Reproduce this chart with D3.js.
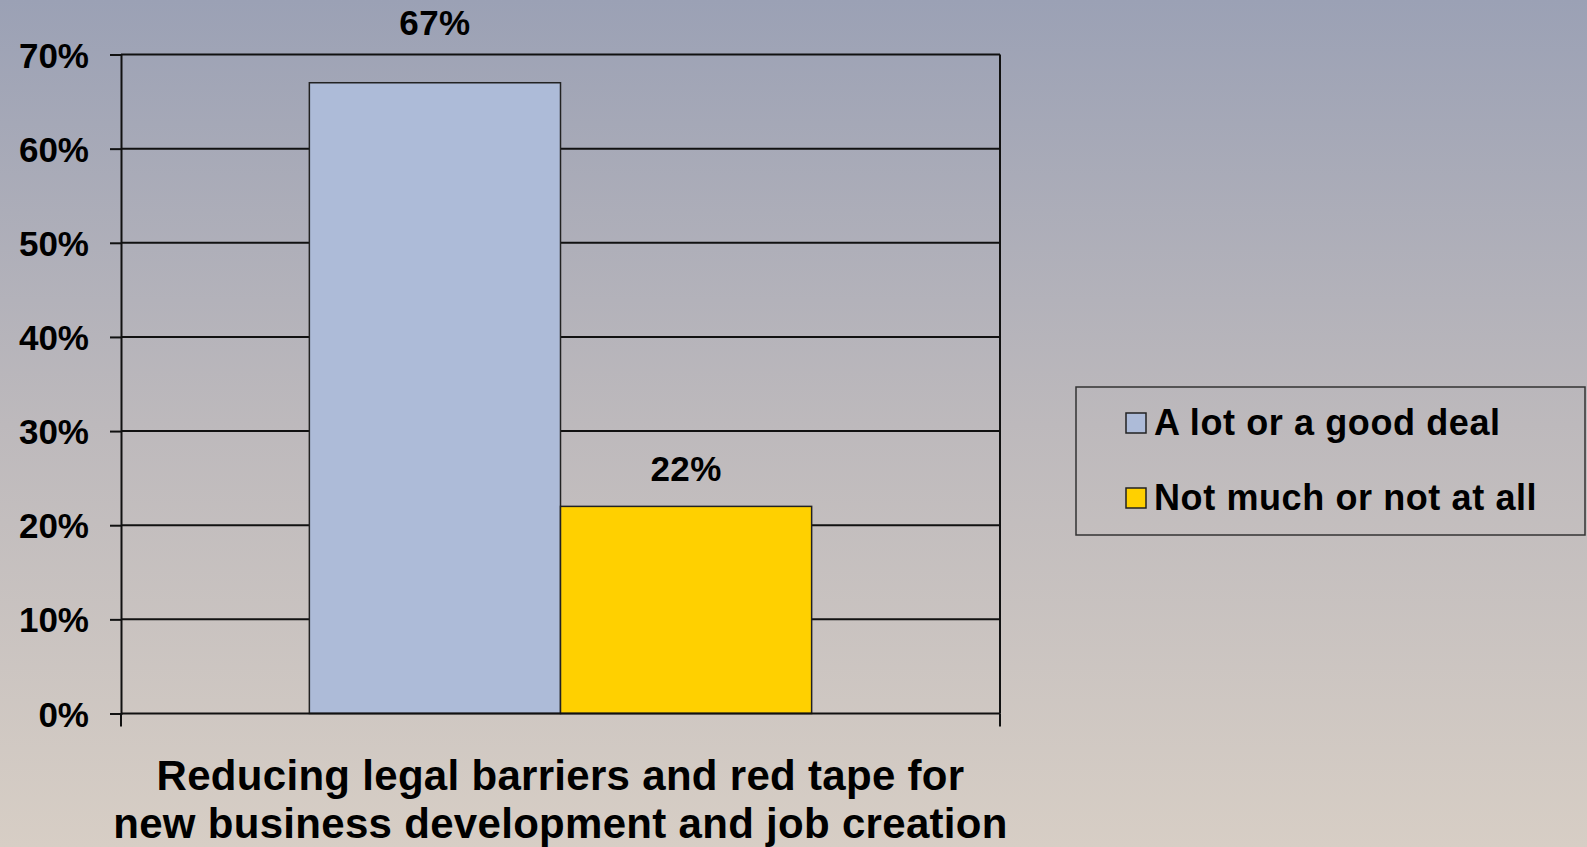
<!DOCTYPE html>
<html>
<head>
<meta charset="utf-8">
<script src="https://cdn.jsdelivr.net/npm/d3@7"></script>
<style>
  html, body { margin: 0; padding: 0; overflow: hidden; }
  svg { display: block; }
  text { font-family: "Liberation Sans", Arial, sans-serif; font-weight: bold; fill: #000; }
</style>
</head>
<body>
<script>
// Survey result: how much each option would help
const categories = ["Reducing legal barriers and red tape for new business development and job creation"];
const categoryLines = ["Reducing legal barriers and red tape for", "new business development and job creation"];
const seriesNames = ["A lot or a good deal", "Not much or not at all"];
const seriesValues = [0.67, 0.22];
const seriesColors = ["#adbbd8", "#ffd000"];
const yTicks = [0, 0.1, 0.2, 0.3, 0.4, 0.5, 0.6, 0.7];

const W = 1587, H = 847;
const plot = { left: 121, right: 1000, top: 54.5, bottom: 713.5 };
const gapWidth = 1.5; // gap between bar groups, as a share of one bar width

const svg = d3.select("body").append("svg").attr("width", W).attr("height", H);

// Background wash: cool grey-blue at the top fading to warm beige
const defs = svg.append("defs");
const grad = defs.append("linearGradient").attr("id", "bg").attr("x1", 0).attr("y1", 0).attr("x2", 0).attr("y2", 1);
grad.append("stop").attr("offset", "0%").attr("stop-color", "#9ba1b5");
grad.append("stop").attr("offset", "50%").attr("stop-color", "#bdb9bc");
grad.append("stop").attr("offset", "100%").attr("stop-color", "#d7cec5");
svg.append("rect").attr("width", W).attr("height", H).attr("fill", "url(#bg)");

const y = d3.scaleLinear().domain([0, 0.7]).range([plot.bottom, plot.top]);
const x = d3.scaleBand().domain(categories).range([plot.left, plot.right]).padding(0);
const barW = x.bandwidth() / (seriesNames.length + gapWidth);
const xs = d3.scaleBand().domain(seriesNames)
  .range([barW * gapWidth / 2, x.bandwidth() - barW * gapWidth / 2]).padding(0);

// Horizontal gridlines
svg.append("g").selectAll("line").data(yTicks.filter(t => t > 0)).join("line")
  .attr("x1", plot.left).attr("x2", plot.right)
  .attr("y1", d => y(d)).attr("y2", d => y(d))
  .attr("stroke", "#111").attr("stroke-width", 2);

// Right frame edge
svg.append("line")
  .attr("x1", plot.right).attr("x2", plot.right).attr("y1", plot.top).attr("y2", plot.bottom)
  .attr("stroke", "#111").attr("stroke-width", 2);

// Bars
const groups = svg.append("g").selectAll("g").data(categories).join("g")
  .attr("transform", d => `translate(${x(d)},0)`);
groups.selectAll("rect").data(seriesNames.map((s, i) => ({ s, v: seriesValues[i], c: seriesColors[i] })))
  .join("rect")
  .attr("x", d => xs(d.s)).attr("width", xs.bandwidth())
  .attr("y", d => y(d.v)).attr("height", d => y(0) - y(d.v))
  .attr("fill", d => d.c).attr("stroke", "#222").attr("stroke-width", 1.5);

// Value labels above each bar; kept clear of the frame's top edge
const fmt = d3.format(".0%");
groups.selectAll("text.val").data(seriesNames.map((s, i) => ({ s, v: seriesValues[i] })))
  .join("text").attr("class", "val")
  .attr("x", d => xs(d.s) + xs.bandwidth() / 2)
  .attr("y", d => {
    const yy = y(d.v) - 25;
    return yy < plot.top + 30 ? plot.top - 19.5 : yy;
  })
  .attr("text-anchor", "middle").attr("font-size", 35).attr("letter-spacing", 0.4)
  .text(d => fmt(d.v));

// Y axis
const yAxis = d3.axisLeft(y).tickValues(yTicks).tickFormat(d3.format(".0%")).tickSize(11).tickPadding(21);
const gy = svg.append("g").attr("transform", `translate(${plot.left},0)`).call(yAxis);
gy.select(".domain").attr("stroke", "#111").attr("stroke-width", 2);
gy.selectAll(".tick line").attr("stroke", "#111").attr("stroke-width", 2);
gy.selectAll(".tick text").attr("font-size", 35).attr("dy", "0.36em")
  .style("font-family", "'Liberation Sans', Arial, sans-serif").style("font-weight", "bold").attr("fill", "#000");

// X axis baseline with tick marks at the category edges
const gx = svg.append("g").attr("transform", `translate(0,${plot.bottom})`);
gx.append("line").attr("x1", plot.left).attr("x2", plot.right).attr("y1", 0).attr("y2", 0)
  .attr("stroke", "#111").attr("stroke-width", 2);
gx.selectAll("line.edge").data([plot.left, plot.right]).join("line").attr("class", "edge")
  .attr("x1", d => d).attr("x2", d => d).attr("y1", 0).attr("y2", 13)
  .attr("stroke", "#111").attr("stroke-width", 2);

// Category label, two lines, centred under the band
const catText = svg.append("text")
  .attr("x", x(categories[0]) + x.bandwidth() / 2).attr("y", 790)
  .attr("text-anchor", "middle").attr("font-size", 42).attr("letter-spacing", 0.3);
catText.selectAll("tspan").data(categoryLines).join("tspan")
  .attr("x", x(categories[0]) + x.bandwidth() / 2)
  .attr("dy", (d, i) => i === 0 ? 0 : 48)
  .text(d => d);

// Legend
const legend = svg.append("g").attr("transform", "translate(1076,387)");
legend.append("rect").attr("width", 509).attr("height", 148)
  .attr("fill", "none").attr("stroke", "#333").attr("stroke-width", 1.5);
const items = legend.selectAll("g").data(seriesNames).join("g")
  .attr("transform", (d, i) => `translate(50,${26 + i * 75})`);
items.append("rect").attr("width", 20).attr("height", 20)
  .attr("fill", (d, i) => seriesColors[i]).attr("stroke", "#222").attr("stroke-width", 1.5);
items.append("text").attr("x", 28).attr("y", 22).attr("font-size", 36).attr("letter-spacing", 0.6).text(d => d);
</script>
</body>
</html>
